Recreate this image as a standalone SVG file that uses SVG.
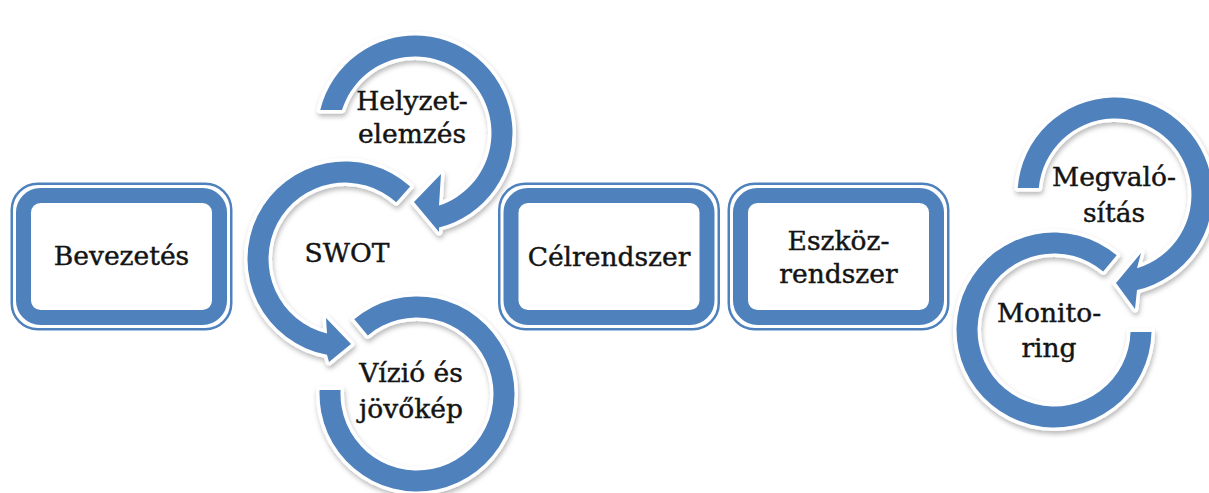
<svg xmlns="http://www.w3.org/2000/svg" width="1209" height="493" viewBox="0 0 1209 493">
  <defs>
    <style>
      .ring{fill:#4f81bd;stroke:#fff;stroke-width:7;stroke-linejoin:round;paint-order:stroke;filter:url(#soft)}
      .frame-thin{fill:none;stroke:#4f81bd;stroke-width:2.5}
      .frame-thick{fill:#fff;stroke:#4f81bd;stroke-width:15}
      text{font-family:"DejaVu Serif","Liberation Serif",serif;font-size:26.5px;fill:#141414;stroke:#141414;stroke-width:0.45;text-anchor:middle}
    </style>
    <filter id="soft" x="-20%" y="-20%" width="140%" height="140%">
      <feDropShadow dx="1" dy="3" stdDeviation="2.5" flood-color="#000" flood-opacity="0.28"/>
    </filter>
    <!-- rounded box with a thin outer line and a thick inner border -->
    <g id="box">
      <rect x="1.25" y="1.25" width="219.5" height="145.5" rx="26" class="frame-thin"/>
      <rect x="13" y="13" width="196" height="122" rx="17" class="frame-thick"/>
    </g>
  </defs>

  <rect width="1209" height="493" fill="#fff"/>

  <g id="bevezetes">
    <use href="#box" x="10.5" y="182.5"/>
    <text x="121.5" y="265">Bevezetés</text>
  </g>

  <!-- circular arrows: drawn bottom-up so each arrowhead sits on the next ring -->
  <g id="vizio">
    <path class="ring" d="M354.3,319.3 A97.5,97.5 0 1 1 319.6,390 L340.6,390 A76.5,76.5 0 1 0 367.8,335.4 Z"/>
    <text x="411" y="382">Vízió és</text>
    <text x="411" y="418">jövőkép</text>
  </g>

  <g id="swot">
    <path class="ring" d="M410.2,186.5 A97.5,97.5 0 1 0 327,354.8 L329,362 L351,344 L326,318 L327,333.4 A76.5,76.5 0 1 1 396.2,202.2 Z"/>
    <text x="347" y="262">SWOT</text>
  </g>

  <g id="helyzetelemzes">
    <path class="ring" d="M320.25,110 A97.5,97.5 0 1 1 439,227.5 L439,232 L414,202 L441,174 L439,205.6 A76.5,76.5 0 1 0 342,110 Z"/>
    <text x="412" y="110">Helyzet-</text>
    <text x="412" y="143">elemzés</text>
  </g>

  <g id="celrendszer">
    <use href="#box" x="498" y="182.5"/>
    <text x="609" y="266">Célrendszer</text>
  </g>

  <g id="eszkozrendszer">
    <use href="#box" x="727.5" y="182.5"/>
    <text x="838.5" y="250">Eszköz-</text>
    <text x="838.5" y="283">rendszer</text>
  </g>

  <g id="monitoring">
    <path class="ring" d="M1116.7,255.3 A97.5,97.5 0 1 0 1151.5,332 L1130.5,332 A76.5,76.5 0 1 1 1103.2,271.4 Z"/>
    <text x="1049" y="322">Monito-</text>
    <text x="1049" y="357">ring</text>
  </g>

  <g id="megvalositas">
    <path class="ring" d="M1017.75,188 A97.5,97.5 0 1 1 1137,290 L1135,309 L1116,283 L1141,253 L1137,268.3 A76.5,76.5 0 1 0 1038.8,188 Z"/>
    <text x="1114" y="186">Megvaló-</text>
    <text x="1114" y="222">sítás</text>
  </g>
</svg>
